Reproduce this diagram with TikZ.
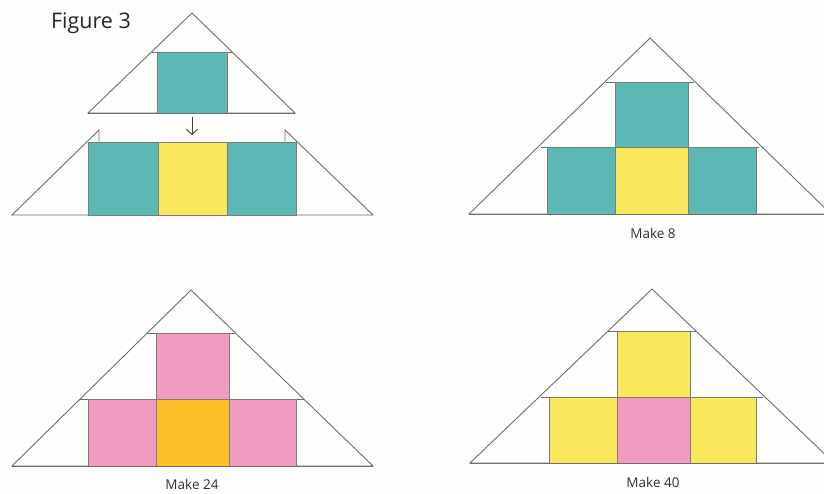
\documentclass[tikz,border=0pt]{standalone}
\usepackage{fontspec}
\setmainfont{Open Sans}
\usetikzlibrary{arrows.meta}
\definecolor{tealc}{RGB}{92,184,180}
\definecolor{yellowc}{RGB}{249,231,92}
\definecolor{pinkc}{RGB}{242,155,192}
\definecolor{orangec}{RGB}{251,192,40}
\definecolor{linegray}{RGB}{110,110,110}
\definecolor{cellgray}{RGB}{125,125,120}
\definecolor{bgc}{RGB}{253,253,251}
\begin{document}
\begin{tikzpicture}[x=1pt,y=-1pt,
  tri/.style={draw=linegray, line width=0.9pt, line join=miter},
  cell/.style={draw=cellgray, line width=0.7pt},
  lbl/.style={font=\fontsize{13.5}{15}\selectfont, text=black!80, inner sep=0pt},
  ttl/.style={font=\fontsize{21.5}{24}\selectfont, text=black!85, inner sep=0pt}]
\fill[bgc] (0,0) rectangle (824,493);
\useasboundingbox (0,0) rectangle (824,493);
\clip (0,0) rectangle (824,493);

% title
\node[ttl] (title) at (91,23) {Figure 3};

% ---- top-left: upper triangle
\draw[tri] (88,113) -- (192,13) -- (295,113) -- cycle;
\draw[tri] (152,52) -- (232,52);
\filldraw[cell, fill=tealc] (157,52) rectangle (227,113);
\draw[tri] (88,113) -- (295,113);

% arrow
\coordinate (a1) at (192,117);
\coordinate (a2) at (192,135);
\draw[draw=black!75, line width=0.9pt, -{Straight Barb[length=5pt,width=11pt]}] (a1) -- (a2);

% ---- top-left: lower trapezoid
\draw[tri] (99,142) -- (99,130) -- (12,215) -- (373,215) -- (285,130) -- (285,142);
\filldraw[cell, fill=tealc] (88,142) rectangle (158,215);
\filldraw[cell, fill=yellowc] (158,142) rectangle (227,215);
\filldraw[cell, fill=tealc] (227,142) rectangle (296,215);

% ---- top-right: Make 8
\draw[tri] (469,214) -- (650,38) -- (831,214) -- cycle;
\draw[tri] (606,82) -- (694,82);
\draw[tri] (541,147) -- (759,147);
\filldraw[cell, fill=tealc] (615,82) rectangle (688,147);
\filldraw[cell, fill=tealc] (547,147) rectangle (615,214);
\filldraw[cell, fill=yellowc] (615,147) rectangle (688,214);
\filldraw[cell, fill=tealc] (688,147) rectangle (756,214);
\draw[tri] (469,214) -- (831,214);
\node[lbl] (m8) at (653,233) {Make 8};

% ---- bottom-left: Make 24
\draw[tri] (12,466) -- (191,290) -- (373,466) -- cycle;
\draw[tri] (147,333) -- (235,333);
\draw[tri] (79,399) -- (304,399);
\filldraw[cell, fill=pinkc] (156,333) rectangle (229,399);
\filldraw[cell, fill=pinkc] (88,399) rectangle (156,466);
\filldraw[cell, fill=orangec] (156,399) rectangle (229,466);
\filldraw[cell, fill=pinkc] (229,399) rectangle (296,466);
\draw[tri] (12,466) -- (373,466);
\node[lbl] (m24) at (192,484) {Make 24};

% ---- bottom-right: Make 40
\draw[tri] (470,463) -- (652,289) -- (834,463) -- cycle;
\draw[tri] (608,331) -- (696,331);
\draw[tri] (541,397) -- (763,397);
\filldraw[cell, fill=yellowc] (617,331) rectangle (690,397);
\filldraw[cell, fill=yellowc] (549,397) rectangle (617,463);
\filldraw[cell, fill=pinkc] (617,397) rectangle (690,463);
\filldraw[cell, fill=yellowc] (690,397) rectangle (756,463);
\draw[tri] (470,463) -- (834,463);
\node[lbl] (m40) at (653,482) {Make 40};
\end{tikzpicture}
\end{document}
